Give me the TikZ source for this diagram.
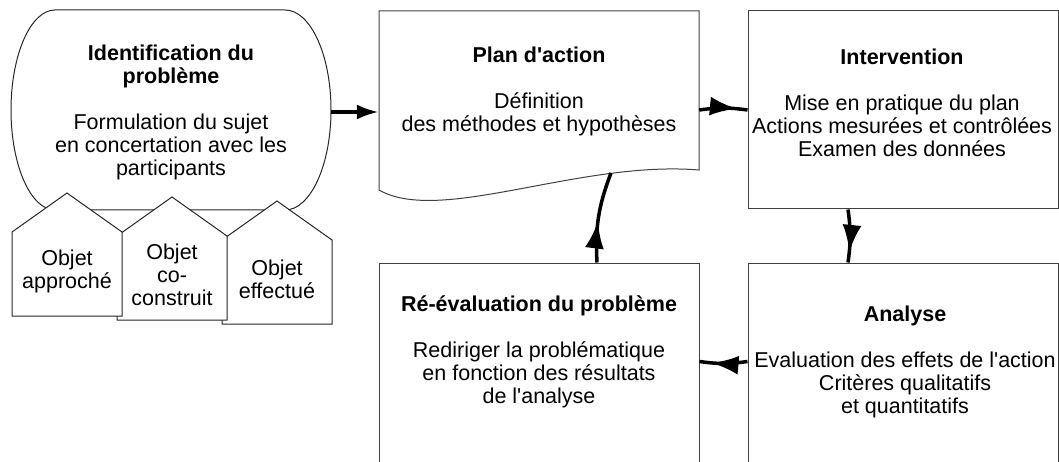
\documentclass[tikz,border=0pt]{standalone}
\usepackage{fontspec}
\setmainfont{Liberation Sans}
\usetikzlibrary{arrows.meta,decorations.markings}

\begin{document}
\begin{tikzpicture}[x=1pt, y=1pt]
\tikzstyle{every node}=[font=\fontsize{21.5}{23}\selectfont, align=center];
\tikzstyle{trait}=[draw=black!75, line width=1pt];
\tikzstyle{boite}=[trait, fill=white, inner sep=0pt];
\tikzstyle{maison}=[draw=black!85, line width=1pt, fill=white, line join=miter];
\tikzstyle{fleche}=[line width=3.5pt];
\tikzset{milieu/.style={decoration={markings, mark=at position #1 with {\arrow{Latex[length=27pt,width=19pt]}}}, postaction={decorate}}}
\useasboundingbox (0,0) rectangle (1059,461);
\clip (0,0) rectangle (1059,461);

% identification du probleme
\draw[maison] (55,451) -- (285,451) arc[start angle=90, end angle=-90, x radius=46, y radius=100]
  -- (55,251) arc[start angle=270, end angle=90, x radius=44, y radius=100] -- cycle;
\node[minimum width=320pt, minimum height=200pt] (ident) at (171,349) {\textbf{Identification du}\\\textbf{problème}\\[23pt]Formulation du sujet\\en concertation avec les\\participants};

% plan d'action (document)
\draw[trait] (379,450) -- (699,450) -- (699,291) .. controls (580,301) and (440,236) .. (379,271) -- cycle;
\node[minimum width=320pt] (plan) at (539,370) {\textbf{Plan d\textquotesingle action}\\[23pt]Définition\\des méthodes et hypothèses};
\coordinate (plan-bas) at (611,288);

% intervention
\node[boite, minimum width=310pt, minimum height=198pt] (interv) at (903,351) {};
\node (interv-texte) at (902,358) {\textbf{Intervention}\\[23pt]Mise en pratique du plan\\Actions mesurées et contrôlées\\Examen des données};

% analyse
\node[boite, minimum width=310pt, minimum height=207pt] (analyse) at (903,94.5) {};
\node (analyse-texte) at (905,99) {\textbf{Analyse}\\[23pt]Evaluation des effets de l\textquotesingle action\\Critères qualitatifs\\et quantitatifs};

% re-evaluation
\node[boite, minimum width=320pt, minimum height=207pt] (reeval) at (539,94.5) {};
\node (reeval-texte) at (539,109) {\textbf{Ré-évaluation du problème}\\[23pt]Rediriger la problématique\\en fonction des résultats\\de l\textquotesingle analyse};

% objets
\draw[maison] (222,137) -- (222,221) -- (277,260) -- (332,221) -- (332,137) -- cycle;
\node (obj3) at (277,182) {Objet\\effectué};
\draw[maison] (117,141) -- (117,225) -- (172,264) -- (227,225) -- (227,141) -- cycle;
\node (obj2) at (172,186) {Objet\\co-\\construit};
\draw[maison] (12,145) -- (12,229) -- (67,268) -- (122,229) -- (122,145) -- cycle;
\node (obj1) at (67,190) {Objet\\approché};

% fleches
\draw[fleche, -{Latex[length=22pt,width=15pt]}] (ident.east) -- (ident.east -| plan.west);
\draw[fleche, milieu=0.78] (plan.east |- interv.west) to[bend left=8] (interv.west);
\draw[fleche, milieu=0.8] ([xshift=-55pt]interv.south) to[bend left=8] ([xshift=-55pt]analyse.north);
\draw[fleche, milieu=0.75] ([yshift=5pt]analyse.west) to[bend left=8] ([yshift=5pt]reeval.east);
\draw[fleche, milieu=0.45] ([xshift=58pt]reeval.north) to[bend left=12] (plan-bas);
\end{tikzpicture}
\end{document}
